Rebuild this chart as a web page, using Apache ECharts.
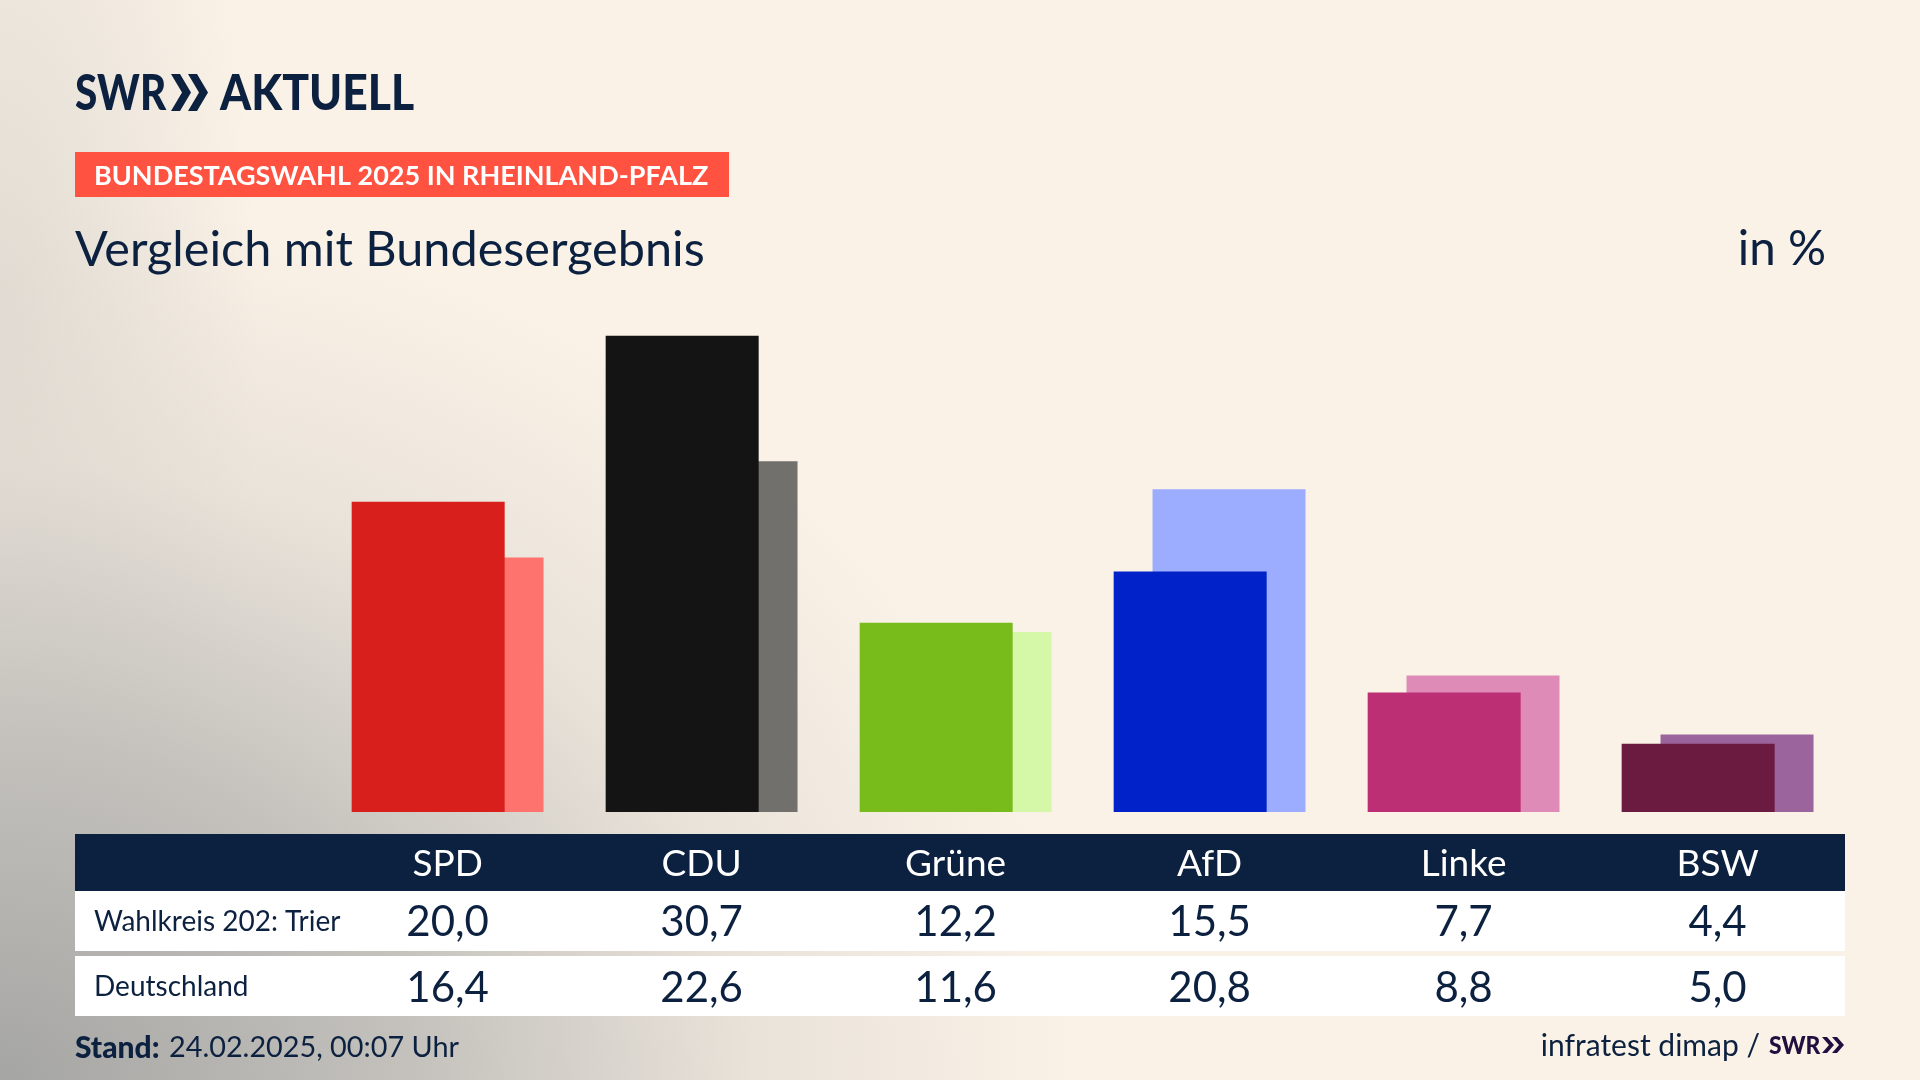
<!DOCTYPE html>
<html>
<head>
<meta charset="utf-8">
<title>Vergleich mit Bundesergebnis</title>
<script src="https://cdn.jsdelivr.net/npm/echarts@6/dist/echarts.min.js"></script>
<style>
html, body { margin: 0; padding: 0; width: 100%; height: 100%; }
body {
    background-color: #faf2e7;
    background-image:
        radial-gradient(ellipse 1080px 880px at 0% 100%, rgba(165,165,163,1) 0%, rgba(190,188,184,.9) 38%, rgba(222,216,208,.6) 70%, rgba(250,242,231,0) 100%),
        radial-gradient(ellipse 260px 700px at 0% 30%, rgba(200,196,190,.5) 0%, rgba(250,242,231,0) 100%);
}
#main { width: 1920px; height: 1080px; }
</style>
</head>
<body>
<div id="main"></div>
<script type="text/javascript">
var parties = ['SPD', 'CDU', 'Grüne', 'AfD', 'Linke', 'BSW'];
var trier = [20.0, 30.7, 12.2, 15.5, 7.7, 4.4];
var deutschland = [16.4, 22.6, 11.6, 20.8, 8.8, 5.0];
var darkColors = ['#d91f1c', '#141414', '#78bc1b', '#0022c8', '#bd2f75', '#6b1a40'];
var lightColors = ['#ff736e', '#72706d', '#d5f7a8', '#9cadff', '#de8bb8', '#9c649c'];
var rowNames = ['Wahlkreis 202: Trier', 'Deutschland'];

var navy = '#0c203f';
var fontName = 'Lato';

var myChart = echarts.init(document.getElementById('main'));

myChart.setOption({
    animation: false,
    grid: { left: 320.6, width: 1524, top: 300, height: 512 },
    xAxis: {
        type: 'category',
        data: parties,
        axisLine: { show: false },
        axisTick: { show: false },
        axisLabel: { show: false }
    },
    yAxis: { type: 'value', min: 0, max: 33, show: false },
    series: [{
        name: 'Wahlkreis 202: Trier',
        type: 'bar',
        data: trier,
        z: 3,
        barWidth: 153,
        barGap: '-74.6%',
        itemStyle: { color: function (p) { return darkColors[p.dataIndex]; } }
    }, {
        name: 'Deutschland',
        type: 'bar',
        data: deutschland,
        z: 2,
        barWidth: 153,
        itemStyle: { color: function (p) { return lightColors[p.dataIndex]; } }
    }]
});

function label(text, x, y, font, fill, align, squeeze) {
    return {
        type: 'text',
        z: 20,
        originX: x,
        scaleX: squeeze || 1,
        style: { text: text, x: x, y: y, font: font, fill: fill, textAlign: align || 'left', textVerticalAlign: 'middle' }
    };
}

function box(x, y, w, h, fill) {
    return { type: 'rect', z: 10, shape: { x: x, y: y, width: w, height: h }, style: { fill: fill } };
}

function chevrons(x, top, bottom, w, t, step, fill) {
    var mid = (top + bottom) / 2;
    return [0, 1].map(function (i) {
        var x0 = x + i * step;
        return {
            type: 'polygon',
            z: 20,
            shape: { points: [[x0, top], [x0 + t, top], [x0 + w, mid], [x0 + t, bottom], [x0, bottom], [x0 + w - t, mid]] },
            style: { fill: fill }
        };
    });
}

function fmt(v) {
    return v.toFixed(1).replace('.', ',');
}

var els = [
    label('SWR', 75, 94, '900 50px ' + fontName, navy, 'left', 0.81),
    label('AKTUELL', 220, 94, '900 50px ' + fontName, navy, 'left', 0.89),
    box(75, 152, 654, 45, '#ff5240'),
    label('BUNDESTAGSWAHL 2025 IN RHEINLAND-PFALZ', 94, 176, 'bold 27px ' + fontName, '#ffffff'),
    label('Vergleich mit Bundesergebnis', 75, 250, '48.6px ' + fontName, navy),
    label('in %', 1826, 250, '47.5px ' + fontName, navy, 'right'),
    box(75, 834, 1770, 57, navy),
    box(75, 891, 1770, 60, '#ffffff'),
    box(75, 956, 1770, 60, '#ffffff'),
    label(rowNames[0], 94, 922, '28px ' + fontName, navy),
    label(rowNames[1], 94, 987, '28px ' + fontName, navy),
    label('Stand:', 75, 1048, '900 30px ' + fontName, navy),
    label('24.02.2025, 00:07 Uhr', 169, 1048, '28.8px ' + fontName, navy),
    label('infratest dimap /', 1760, 1046, '30px ' + fontName, navy, 'right'),
    label('SWR', 1769, 1046, '900 24px ' + fontName, '#1f1040', 'left', 0.95)
];
els = els.concat(chevrons(171, 74, 111, 20, 9, 17, navy));
els = els.concat(chevrons(1822, 1037, 1053, 12, 5, 10, '#1f1040'));

parties.forEach(function (name, i) {
    var cx = myChart.convertToPixel({ xAxisIndex: 0 }, name);
    els.push(label(name, cx, 864, '37px ' + fontName, '#ffffff', 'center'));
    els.push(label(fmt(trier[i]), cx, 922, '42px ' + fontName, navy, 'center'));
    els.push(label(fmt(deutschland[i]), cx, 988, '42px ' + fontName, navy, 'center'));
});

myChart.setOption({ graphic: { elements: els } });
</script>
</body>
</html>
